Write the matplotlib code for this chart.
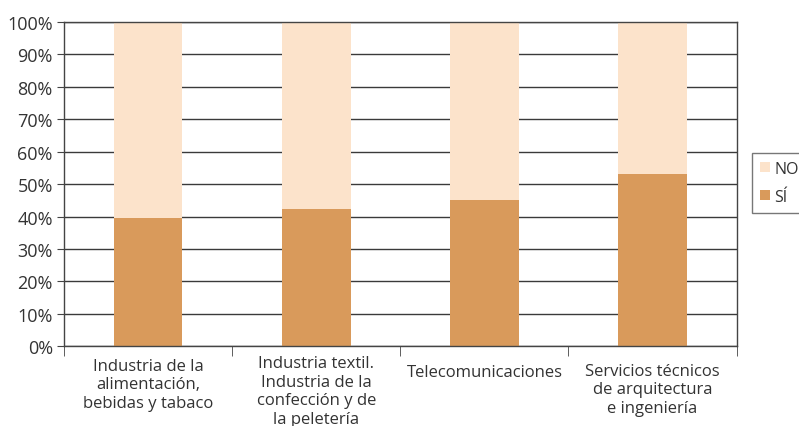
import numpy as np
import matplotlib.pyplot as plt

plt.rcParams['font.family'] = ['Open Sans', 'DejaVu Sans']

categorias = ["Industria de la\nalimentación,\nbebidas y tabaco",
              "Industria textil.\nIndustria de la\nconfección y de\nla peletería",
              "Telecomunicaciones",
              "Servicios técnicos\nde arquitectura\ne ingeniería"]
si = [39.5, 42.3, 45.0, 53.0]
no = [100 - v for v in si]

col_si = "#D99A5B"
col_no = "#FCE3CB"
txt = "#333333"

fig = plt.figure(figsize=(7.99, 4.27), dpi=100)
ax = fig.add_axes([0.080, 0.187, 0.842, 0.759])

x = np.arange(len(categorias))
w = 0.41
ax.bar(x, si, w, color=col_si, zorder=2, label="SÍ")
ax.bar(x, no, w, bottom=si, color=col_no, zorder=2, label="NO")

ax.set_ylim(0, 100)
ax.set_xlim(-0.5, 3.5)
ax.set_yticks(np.arange(0, 101, 10))
ax.set_yticklabels([f"{v}%" for v in range(0, 101, 10)])
ax.grid(axis='y', color='#3a3a3a', linewidth=1.0, zorder=1)
ax.set_axisbelow(True)

# category labels, centred vertically below each bar
ax.set_xticks(x)
ax.set_xticklabels([])
ax.tick_params(axis='x', which='major', length=0)
offsets_px = [38, 45, 26, 43]
for xi, lab, off in zip(x, categorias, offsets_px):
    ax.annotate(lab, xy=(xi, 0), xycoords=('data', 'axes fraction'),
                xytext=(0, -off * 0.72), textcoords='offset points',
                ha='center', va='center', fontsize=12, color=txt,
                linespacing=1.22, annotation_clip=False)

ax.set_xticks(np.arange(-0.5, 3.6, 1), minor=True)
ax.tick_params(axis='x', which='minor', length=7, color='#444444', direction='out')
ax.tick_params(axis='y', labelsize=13, labelcolor=txt, length=5, color='#444444', pad=3)

for s in ['left', 'bottom', 'right', 'top']:
    ax.spines[s].set_color('#444444')
    ax.spines[s].set_linewidth(1.0)

h, l = ax.get_legend_handles_labels()
fig.legend(h[::-1], l[::-1], loc='upper left', bbox_to_anchor=(752 / 799, 1 - 154 / 427),
           frameon=True, fancybox=False, edgecolor='#555555', fontsize=11.5,
           handlelength=0.6, handleheight=0.6, handletextpad=0.3, borderpad=0.5,
           borderaxespad=0, labelspacing=0.75, labelcolor=txt)

fig.savefig("out.png", dpi=100)
